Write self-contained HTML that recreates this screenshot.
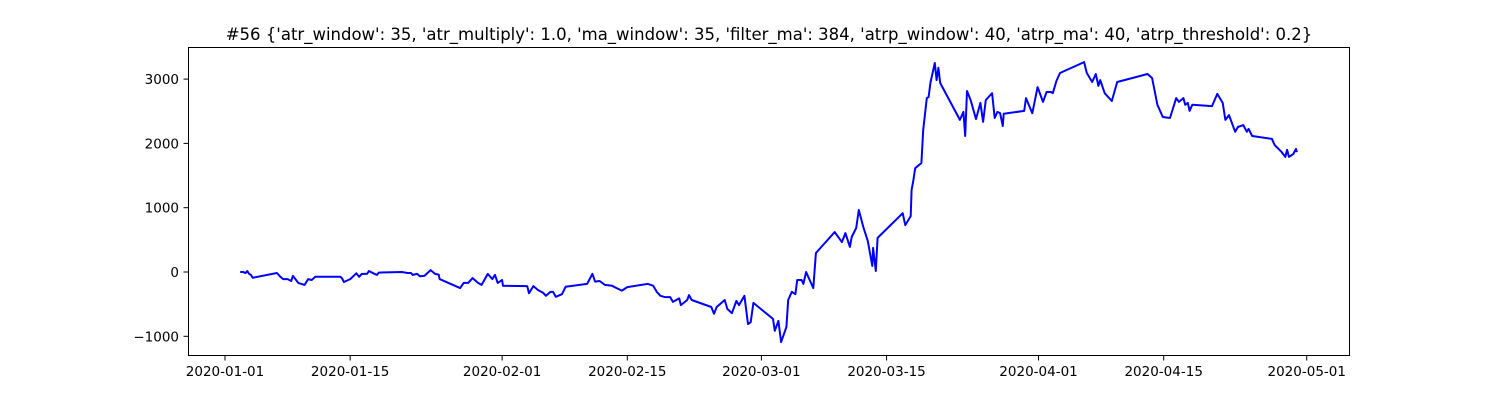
<!DOCTYPE html>
<html><head><meta charset="utf-8"><style>
html,body{margin:0;padding:0;background:#fff;width:1500px;height:400px;overflow:hidden}
text{font-family:"DejaVu Sans","Liberation Sans",sans-serif;fill:#000}
</style></head><body>
<svg id="chart" width="1500" height="400" xmlns="http://www.w3.org/2000/svg">
<rect x="0" y="0" width="1500" height="400" fill="#fff"/>
<text x="769" y="40" font-size="16.5" text-anchor="middle">#56 {'atr_window': 35, 'atr_multiply': 1.0, 'ma_window': 35, 'filter_ma': 384, 'atrp_window': 40, 'atrp_ma': 40, 'atrp_threshold': 0.2}</text>
<g id="ticks"></g>
<path id="line" fill="none" stroke="#0000ff" stroke-width="2" stroke-linejoin="round"/>
<rect x="188.5" y="47.5" width="1161" height="308" fill="none" stroke="#000" stroke-width="1"/>
</svg>
<script>
// days since 2020-01-01
const days = [1.7,2.0,2.3,2.5,2.7,2.9,3.1,5.8,6.2,6.5,7.0,7.4,7.6,8.2,8.9,9.3,9.7,10.1,12.9,13.1,13.3,14.0,14.7,15.0,15.3,15.9,16.1,16.6,17.0,17.2,19.8,20.4,20.8,21.0,21.5,21.8,22.3,23.0,23.5,23.9,24.0,26.3,26.7,27.2,27.7,28.3,28.7,29.4,29.9,30.2,30.5,31.0,31.1,33.8,34.0,34.5,35.0,35.6,35.9,36.4,36.7,37.0,37.7,38.1,40.5,41.1,41.4,41.9,42.5,43.3,43.8,44.4,45.0,47.3,47.9,48.3,48.7,49.2,49.8,50.1,50.8,51.0,51.7,51.9,52.2,54.4,54.7,55.0,55.9,56.2,56.7,57.2,57.5,58.1,58.5,58.8,59.1,61.3,61.5,61.9,62.2,62.8,63.0,63.4,63.8,64.0,64.5,64.7,65.0,65.8,66.1,68.2,69.0,69.4,69.9,70.1,70.6,70.9,71.4,71.9,72.4,72.5,72.8,73.0,75.8,76.1,76.7,76.8,77.0,77.2,77.9,78.1,78.5,78.7,78.9,79.4,79.6,79.8,80.0,82.2,82.6,82.8,83.0,83.4,84.0,84.5,84.8,85.1,85.8,86.1,86.4,86.7,87.0,87.1,89.4,89.6,90.3,90.9,91.5,91.9,92.4,92.6,93.0,93.4,96.1,96.4,97.0,97.4,97.7,97.9,98.4,99.2,99.8,103.2,103.7,104.3,104.9,105.7,106.4,106.7,107.2,107.4,107.7,107.9,108.2,110.4,111.0,111.6,111.9,112.3,113.0,113.3,113.9,114.3,114.5,114.9,117.1,117.4,118.2,118.6,118.8,119.0,119.5,119.8,119.9];
const values = [0,0,-15,15,-30,-45,-90,-15,-75,-110,-110,-140,-60,-170,-200,-110,-125,-75,-75,-100,-155,-110,-20,-75,-30,-30,15,-20,-45,-10,0,-15,-15,-45,-30,-65,-60,30,-30,-40,-110,-250,-170,-170,-95,-170,-200,-30,-110,-45,-170,-125,-215,-220,-330,-220,-280,-325,-370,-310,-310,-385,-345,-230,-185,-30,-150,-140,-200,-215,-250,-290,-235,-185,-215,-310,-370,-390,-390,-465,-410,-515,-435,-360,-435,-545,-650,-545,-435,-575,-640,-450,-515,-370,-810,-780,-480,-730,-915,-760,-1090,-855,-435,-310,-345,-125,-125,-185,0,-250,295,620,465,605,390,545,685,965,700,480,95,375,15,530,915,730,870,1275,1430,1615,1695,2210,2705,2720,2940,3250,2985,3175,2940,2365,2490,2115,2815,2675,2380,2630,2335,2675,2780,2395,2490,2470,2270,2460,2505,2705,2470,2875,2645,2800,2800,2780,2970,3095,3265,3095,2955,3080,2895,2985,2780,2660,2955,3080,3015,2600,2410,2395,2705,2645,2705,2600,2630,2505,2600,2580,2770,2630,2365,2440,2180,2255,2285,2180,2225,2115,2070,1975,1865,1790,1900,1790,1835,1915,1865];
const xTickDays = [0,14,31,45,60,74,91,105,121];
const xTickLabels = ["2020-01-01","2020-01-15","2020-02-01","2020-02-15","2020-03-01","2020-03-15","2020-04-01","2020-04-15","2020-05-01"];
const yTicks = [-1000,0,1000,2000,3000];

const xS = d => 225 + d * 8.94;
const yS = v => 272 - v * 0.0643;
const NS = "http://www.w3.org/2000/svg";
const g = document.getElementById('ticks');
function mk(tag, attrs){const e=document.createElementNS(NS,tag);for(const k in attrs)e.setAttribute(k,attrs[k]);return e;}
xTickDays.forEach((d,i)=>{
  const x = xS(d);
  const t = mk('line',{x1:x,x2:x,y1:356,y2:360.5,stroke:'#000','stroke-width':1});
  
  
  g.appendChild(t);
  const l = mk('text',{x:x,y:376,'font-size':13.5,'text-anchor':'middle'});
  
  
  l.textContent = xTickLabels[i];
  g.appendChild(l);
});
yTicks.forEach(v=>{
  const y = yS(v);
  const t = mk('line',{x1:183.5,x2:188,y1:y,y2:y,stroke:'#000','stroke-width':1});
  
  
  g.appendChild(t);
  const l = mk('text',{x:179,y:y+5,'font-size':13.5,'text-anchor':'end'});
  
  
  l.textContent = v < 0 ? '\u2212' + Math.abs(v) : String(v);
  g.appendChild(l);
});
document.getElementById('line').setAttribute('d', days.map((d,i)=>(i?'L':'M')+xS(d).toFixed(1)+','+yS(values[i]).toFixed(1)).join(''));
</script>
</body></html>
